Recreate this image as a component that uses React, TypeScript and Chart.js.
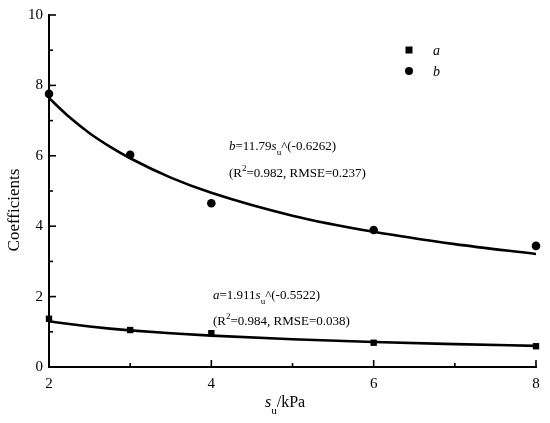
import React, { useEffect, useRef } from "react";
import { Chart, registerables } from "chart.js";

Chart.register(...registerables);

// Measured data points
const suValues = [2, 3, 4, 6, 8];
const aValues = [1.37, 1.05, 0.96, 0.69, 0.59];
const bValues = [7.76, 6.03, 4.65, 3.89, 3.44];

// Fitted curves
const fitX = [2, 2.25, 2.5, 2.75, 3, 3.5, 4, 5, 6, 7, 8];
const aFit = [1.3, 1.22, 1.15, 1.09, 1.04, 0.96, 0.89, 0.79, 0.71, 0.65, 0.6];
const bFit = [7.64, 7.1, 6.64, 6.26, 5.93, 5.38, 4.95, 4.3, 3.84, 3.49, 3.21];

const xMin = 2;
const xMax = 8;
const yMin = 0;
const yMax = 10;

const SERIF = "'Liberation Serif', 'Times New Roman', serif";

type Seg = { t: string; italic?: boolean; dy?: number; size?: number };

function drawSegs(ctx: CanvasRenderingContext2D, x: number, y: number, segs: Seg[], base: number) {
  let cx = x;
  for (const s of segs) {
    const size = s.size ?? base;
    ctx.font = `${s.italic ? "italic " : ""}${size}px ${SERIF}`;
    ctx.fillText(s.t, cx, y + (s.dy ?? 0));
    cx += ctx.measureText(s.t).width;
  }
}

const decorPlugin = {
  id: "decor",
  afterDraw(chart: any) {
    const ctx: CanvasRenderingContext2D = chart.ctx;
    const { left, top, bottom } = chart.chartArea;
    const xs = chart.scales.x;
    const ys = chart.scales.y;
    ctx.save();
    ctx.strokeStyle = "#000";
    ctx.fillStyle = "#000";
    ctx.lineWidth = 1.6;
    // y ticks (inward), major + minor
    const yt = ys.ticks.map((t: any) => t.value);
    for (let i = 0; i < yt.length; i++) {
      const y = ys.getPixelForValue(yt[i]);
      ctx.beginPath();
      ctx.moveTo(left, y);
      ctx.lineTo(left + 7, y);
      ctx.stroke();
      if (i < yt.length - 1) {
        const ym = ys.getPixelForValue((yt[i] + yt[i + 1]) / 2);
        ctx.beginPath();
        ctx.moveTo(left, ym);
        ctx.lineTo(left + 4, ym);
        ctx.stroke();
      }
    }
    const xt = xs.ticks.map((t: any) => t.value);
    for (let i = 0; i < xt.length; i++) {
      const x = xs.getPixelForValue(xt[i]);
      ctx.beginPath();
      ctx.moveTo(x, bottom);
      ctx.lineTo(x, bottom - 7);
      ctx.stroke();
      if (i < xt.length - 1) {
        const xm = xs.getPixelForValue((xt[i] + xt[i + 1]) / 2);
        ctx.beginPath();
        ctx.moveTo(xm, bottom);
        ctx.lineTo(xm, bottom - 4);
        ctx.stroke();
      }
    }

    // legend
    const lx = left + 360;
    ctx.fillRect(lx - 3.5, top + 31.5, 7, 7);
    ctx.beginPath();
    ctx.arc(lx, top + 56, 4, 0, Math.PI * 2);
    ctx.fill();
    ctx.textBaseline = "alphabetic";
    ctx.textAlign = "left";
    drawSegs(ctx, lx + 24, top + 40, [{ t: "a", italic: true }], 14);
    drawSegs(ctx, lx + 24, top + 61, [{ t: "b", italic: true }], 14);

    // b annotation
    drawSegs(
      ctx,
      left + 180,
      top + 135,
      [
        { t: "b", italic: true },
        { t: "=11.79" },
        { t: "s", italic: true },
        { t: "u", size: 9, dy: 5 },
        { t: "^(-0.6262)" },
      ],
      13
    );
    drawSegs(
      ctx,
      left + 180,
      top + 162,
      [{ t: "(R" }, { t: "2", size: 9, dy: -6 }, { t: "=0.982, RMSE=0.237)" }],
      13
    );

    // a annotation
    drawSegs(
      ctx,
      left + 164,
      top + 284,
      [
        { t: "a", italic: true },
        { t: "=1.911" },
        { t: "s", italic: true },
        { t: "u", size: 9, dy: 5 },
        { t: "^(-0.5522)" },
      ],
      13
    );
    drawSegs(
      ctx,
      left + 164,
      top + 310,
      [{ t: "(R" }, { t: "2", size: 9, dy: -6 }, { t: "=0.984, RMSE=0.038)" }],
      13
    );

    // x axis title
    drawSegs(
      ctx,
      left + 216,
      bottom + 40,
      [{ t: "s", italic: true }, { t: "u", size: 11, dy: 7 }, { t: "/kPa" }],
      16
    );

    // y axis title
    ctx.save();
    ctx.translate(15, top + 195);
    ctx.rotate(-Math.PI / 2);
    ctx.textAlign = "center";
    ctx.textBaseline = "middle";
    ctx.font = `17px ${SERIF}`;
    ctx.fillText("Coefficients", 0, 0);
    ctx.restore();

    ctx.restore();
  },
};

export default function App() {
  const ref = useRef<HTMLCanvasElement | null>(null);
  useEffect(() => {
    if (!ref.current) return;
    const chart = new Chart(ref.current, {
      type: "scatter",
      data: {
        datasets: [
          {
            label: "a fit",
            data: fitX.map((x, i) => ({ x, y: aFit[i] })),
            showLine: true,
            borderColor: "#000",
            borderWidth: 2.6,
            pointRadius: 0,
            cubicInterpolationMode: "monotone",
          } as any,
          {
            label: "b fit",
            data: fitX.map((x, i) => ({ x, y: bFit[i] })),
            showLine: true,
            borderColor: "#000",
            borderWidth: 2.6,
            pointRadius: 0,
            cubicInterpolationMode: "monotone",
          } as any,
          {
            label: "a",
            data: suValues.map((x, i) => ({ x, y: aValues[i] })),
            pointStyle: "rect",
            pointRadius: 4.5,
            backgroundColor: "#000",
            borderColor: "#000",
            borderWidth: 0,
            clip: false,
          } as any,
          {
            label: "b",
            data: suValues.map((x, i) => ({ x, y: bValues[i] })),
            pointStyle: "circle",
            pointRadius: 4.3,
            backgroundColor: "#000",
            borderColor: "#000",
            borderWidth: 0,
            clip: false,
          } as any,
        ],
      },
      options: {
        animation: false,
        responsive: false,
        devicePixelRatio: 1,
        layout: { padding: { top: 13, right: 14, left: 0, bottom: 0 } },
        plugins: { legend: { display: false }, tooltip: { enabled: false } },
        scales: {
          x: {
            type: "linear",
            min: xMin,
            max: xMax,
            ticks: {
              stepSize: 2,
              color: "#000",
              font: { family: SERIF, size: 15 },
              padding: 8,
            },
            grid: { display: false, drawTicks: false },
            border: { display: true, color: "#000", width: 2 },
            afterFit: (s: any) => {
              s.height = 56;
            },
          },
          y: {
            type: "linear",
            min: yMin,
            max: yMax,
            ticks: {
              stepSize: 2,
              color: "#000",
              font: { family: SERIF, size: 15 },
              padding: 6,
            },
            grid: { display: false, drawTicks: false },
            border: { display: true, color: "#000", width: 2 },
            afterFit: (s: any) => {
              s.width = 49;
            },
          },
        },
      },
      plugins: [decorPlugin],
    });
    return () => chart.destroy();
  }, []);
  return (
    <div style={{ position: "fixed", left: 0, top: 0, width: 550, height: 423, background: "#fff" }}>
      <canvas ref={ref} width={550} height={423} style={{ width: 550, height: 423 }} />
    </div>
  );
}
